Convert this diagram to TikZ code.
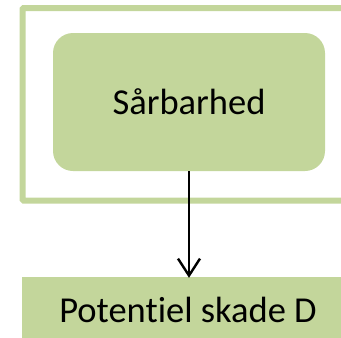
\documentclass[tikz,border=0pt]{standalone}
\usepackage{fontspec}
\setmainfont{Carlito}[Ligatures=NoCommon]
\usetikzlibrary{arrows.meta}
\definecolor{lgreen}{RGB}{195,214,155}
\begin{document}
\begin{tikzpicture}[x=1pt,y=-1pt,
  frame/.style={draw=lgreen,line width=6pt,rounded corners=1pt},
  bigfont/.style={font=\fontsize{36.5}{40}\selectfont},
  gbox/.style={fill=lgreen,rounded corners=20pt,inner sep=0pt,bigfont},
  pbox/.style={fill=lgreen,inner sep=0pt},
  conn/.style={draw=black,line width=2.6pt,-{Straight Barb[length=17pt,width=22pt,line width=2.4pt]}}]
\useasboundingbox (0,0) rectangle (341,338);
\begin{scope}
\clip (0,0) rectangle (341,338);
\draw[frame] (380,8) -- (22.5,8) -- (22.5,200.5) -- (380,200.5);
\node[gbox,minimum width=272pt,minimum height=138pt] (inner) at (189,102) {Sårbarhed};
\node[pbox,minimum width=334pt,minimum height=70pt] (pot) at (189,312) {};
\node[bigfont,anchor=base,inner sep=0pt] (potlabel) at (188,322) {Potentiel skade D};
\draw[conn] (inner.south) -- ([yshift=-1pt]pot.north);
\end{scope}
\end{tikzpicture}
\end{document}
